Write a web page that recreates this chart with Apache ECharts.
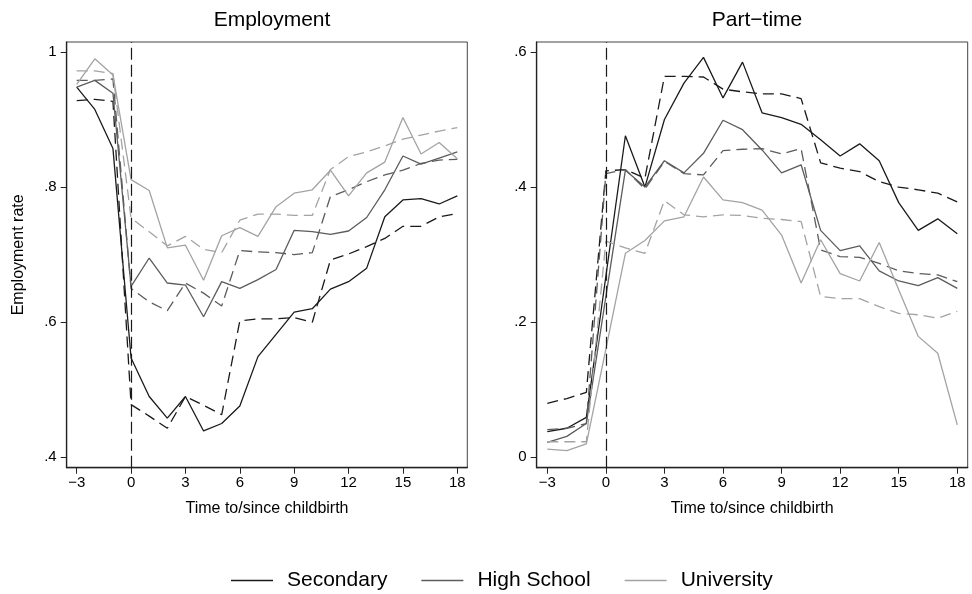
<!DOCTYPE html>
<html>
<head>
<meta charset="utf-8">
<script src="https://cdn.jsdelivr.net/npm/echarts@6/dist/echarts.min.js"></script>
<style>
html,body{margin:0;padding:0;background:#fff;}
#chart{width:972px;height:594px;}
</style>
</head>
<body>
<div id="chart"></div>
<script>
// Time to/since childbirth
const years = [-3,-2,-1,0,1,2,3,4,5,6,7,8,9,10,11,12,13,14,15,16,17,18];
const xTicks = [-3,0,3,6,9,12,15,18];
const yTicksEmp = [0.4,0.6,0.8,1];
const yTicksPT = [0,0.2,0.4,0.6];
const groups = ['Secondary','High School','University'];

// Employment panel
const secSolidEmp  = [0.948,0.915,0.857,0.547,0.490,0.458,0.490,0.439,0.450,0.476,0.549,0.582,0.615,0.620,0.649,0.660,0.680,0.756,0.781,0.783,0.775,0.787];
const secDashEmp   = [0.928,0.930,0.927,0.478,0.461,0.443,0.490,0.477,0.463,0.602,0.605,0.605,0.607,0.600,0.692,0.701,0.712,0.724,0.742,0.742,0.756,0.761];
const hsSolidEmp   = [0.948,0.958,0.939,0.653,0.695,0.658,0.655,0.608,0.660,0.650,0.663,0.678,0.736,0.734,0.730,0.735,0.755,0.796,0.846,0.834,0.843,0.852];
const hsDashEmp    = [0.958,0.958,0.960,0.650,0.630,0.617,0.658,0.643,0.624,0.706,0.704,0.703,0.700,0.703,0.786,0.796,0.808,0.818,0.825,0.835,0.840,0.841];
const univSolidEmp = [0.952,0.990,0.966,0.811,0.795,0.710,0.714,0.662,0.728,0.740,0.727,0.771,0.791,0.796,0.825,0.787,0.821,0.837,0.903,0.849,0.866,0.842];
const univDashEmp  = [0.972,0.972,0.968,0.754,0.734,0.713,0.727,0.708,0.703,0.751,0.760,0.760,0.758,0.758,0.826,0.845,0.852,0.861,0.871,0.877,0.883,0.888];

// Part-time panel
const secSolidPT  = [0.038,0.043,0.059,0.268,0.476,0.400,0.500,0.554,0.592,0.532,0.585,0.510,0.503,0.493,0.470,0.446,0.464,0.439,0.377,0.336,0.353,0.331];
const secDashPT   = [0.080,0.087,0.096,0.424,0.426,0.413,0.564,0.564,0.563,0.545,0.541,0.538,0.538,0.531,0.436,0.428,0.423,0.408,0.400,0.396,0.391,0.378];
const hsSolidPT   = [0.022,0.031,0.050,0.238,0.425,0.400,0.439,0.421,0.450,0.499,0.485,0.455,0.421,0.433,0.336,0.306,0.313,0.276,0.261,0.254,0.266,0.250];
const hsDashPT    = [0.041,0.043,0.050,0.420,0.426,0.397,0.438,0.420,0.418,0.454,0.456,0.457,0.449,0.457,0.307,0.297,0.296,0.287,0.276,0.272,0.270,0.260];
const univSolidPT = [0.012,0.010,0.020,0.160,0.302,0.321,0.350,0.356,0.415,0.381,0.377,0.366,0.329,0.258,0.322,0.272,0.261,0.318,0.248,0.179,0.154,0.048];
const univDashPT  = [0.023,0.023,0.023,0.320,0.310,0.302,0.380,0.359,0.356,0.359,0.358,0.354,0.352,0.349,0.238,0.235,0.235,0.223,0.213,0.211,0.206,0.216];

const colors = ['#1a1a1a','#5c5c5c','#a3a3a3'];
const FONT = 'Liberation Sans';
const dashPattern = [11,6];

function pairs(vals){ return years.map((x,i)=>[x,vals[i]]); }
function fmtY(v){
  const r = Math.round(v*100)/100;
  if (r===0) return '0';
  if (r===1) return '1';
  return String(r).replace(/^0/,'');
}

function mkSeries(name, vals, colorIdx, dashed, panel, withMark){
  const s = {
    name: name,
    type: 'line',
    xAxisIndex: panel, yAxisIndex: panel,
    data: pairs(vals),
    symbol: 'none',
    silent: true,
    animation: false,
    lineStyle: {color: colors[colorIdx], width: 1.3, type: dashed ? dashPattern : 'solid'},
    itemStyle: {color: colors[colorIdx]},
    z: 3
  };
  if (withMark){
    s.markLine = {
      silent: true, symbol: ['none','none'], animation: false,
      label: {show: false},
      lineStyle: {color: '#1a1a1a', width: 1.2, type: [12,5]},
      data: [{xAxis: 0}]
    };
  }
  return s;
}

function xAxisCfg(idx, min, max){
  return {
    type: 'value', gridIndex: idx, min: min, max: max,
    name: 'Time to/since childbirth', nameLocation: 'middle', nameGap: 33,
    nameTextStyle: {fontFamily: FONT, fontSize: 16, color: '#000'},
    axisLine: {show: true, onZero: false, lineStyle: {color: '#222', width: 1.3}},
    axisTick: {show: true, length: 6, lineStyle: {color: '#222'}, customValues: xTicks},
    axisLabel: {fontFamily: FONT, fontSize: 15, color: '#000', margin: 8, customValues: xTicks,
      formatter: v => String(v).replace('-', '\u2212')},
    splitLine: {show: false}
  };
}
function yAxisCfg(idx, min, max, ticks, name){
  return {
    type: 'value', gridIndex: idx, min: min, max: max,
    name: name || '', nameLocation: 'middle', nameGap: 40, nameRotate: 90,
    nameTextStyle: {fontFamily: FONT, fontSize: 16, color: '#000'},
    axisLine: {show: true, onZero: false, lineStyle: {color: '#222', width: 1.3}},
    axisTick: {show: true, length: 6, lineStyle: {color: '#222'}, customValues: ticks},
    axisLabel: {fontFamily: FONT, fontSize: 15, color: '#000', margin: 10, customValues: ticks, formatter: fmtY},
    splitLine: {show: false}
  };
}

const series = [
  mkSeries(groups[0], secSolidEmp, 0, false, 0, true),
  mkSeries(groups[0]+' (dashed)', secDashEmp, 0, true, 0, false),
  mkSeries(groups[1], hsSolidEmp, 1, false, 0, false),
  mkSeries(groups[1]+' (dashed)', hsDashEmp, 1, true, 0, false),
  mkSeries(groups[2], univSolidEmp, 2, false, 0, false),
  mkSeries(groups[2]+' (dashed)', univDashEmp, 2, true, 0, false),
  mkSeries(groups[0], secSolidPT, 0, false, 1, true),
  mkSeries(groups[0]+' (dashed)', secDashPT, 0, true, 1, false),
  mkSeries(groups[1], hsSolidPT, 1, false, 1, false),
  mkSeries(groups[1]+' (dashed)', hsDashPT, 1, true, 1, false),
  mkSeries(groups[2], univSolidPT, 2, false, 1, false),
  mkSeries(groups[2]+' (dashed)', univDashPT, 2, true, 1, false)
];

const chart = echarts.init(document.getElementById('chart'), null, {renderer: 'canvas'});
chart.setOption({
  backgroundColor: '#fff',
  animation: false,
  textStyle: {fontFamily: FONT},
  title: [
    {text: 'Employment', left: 267, top: 5, textAlign: 'center',
     textStyle: {fontFamily: FONT, fontSize: 21, fontWeight: 'normal', color: '#000'}},
    {text: 'Part\u2212time', left: 752, top: 5, textAlign: 'center',
     textStyle: {fontFamily: FONT, fontSize: 21, fontWeight: 'normal', color: '#000'}}
  ],
  grid: [
    {left: 66.7, top: 42, width: 400.6, height: 425.7, show: true, borderColor: '#444', borderWidth: 1, backgroundColor: '#fff'},
    {left: 536.7, top: 42, width: 431, height: 425.7, show: true, borderColor: '#444', borderWidth: 1, backgroundColor: '#fff'}
  ],
  xAxis: [xAxisCfg(0, -3.552, 18.552), xAxisCfg(1, -3.543, 18.533)],
  yAxis: [yAxisCfg(0, 0.3846, 1.0148, yTicksEmp, 'Employment rate'), yAxisCfg(1, -0.0154, 0.6148, yTicksPT, '')],
  legend: {
    data: groups,
    left: 226, top: 565,
    itemWidth: 42, itemHeight: 14, itemGap: 34,
    icon: 'path://M0,0 L42,0 L42,1.4 L0,1.4 Z',
    textStyle: {fontFamily: FONT, fontSize: 21, color: '#000', padding: [0,0,0,9]},
    selectedMode: false
  },
  series: series
});
</script>
</body>
</html>
